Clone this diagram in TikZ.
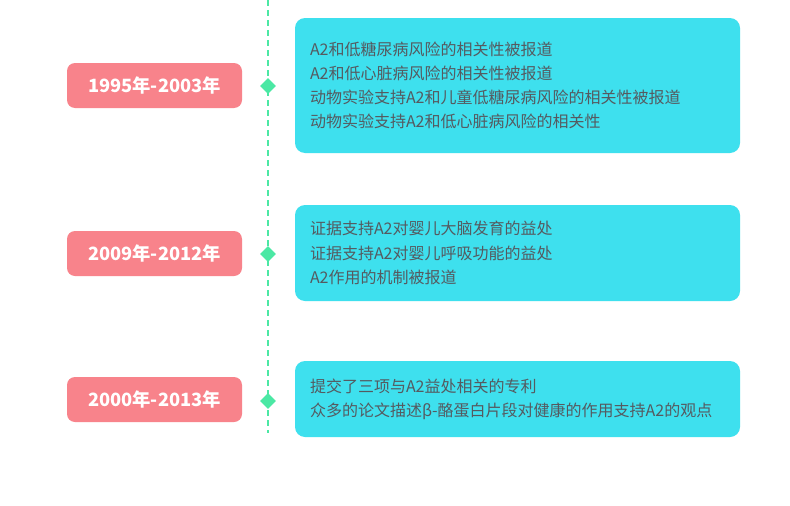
\documentclass[tikz,border=0pt]{standalone}
\usepackage{fontspec}
\newfontfamily\cjk{Noto Sans CJK SC}
\usetikzlibrary{shapes.geometric}
\definecolor{pinkbox}{HTML}{F8838B}
\definecolor{cyanbox}{HTML}{3EE0EE}
\definecolor{greenline}{HTML}{4BE8A4}
\definecolor{txtgray}{HTML}{555A60}
\tikzset{
  yearbox/.style={fill=pinkbox, rounded corners=8pt, minimum width=175pt, minimum height=45pt, inner sep=0pt, text=white, font=\cjk\bfseries\fontsize{18.3pt}{20pt}\selectfont},
  infobox/.style={fill=cyanbox, rounded corners=10pt, text width=415pt, inner xsep=15pt, inner ysep=0pt, align=left, text=txtgray, font=\cjk\fontsize{16pt}{24.2pt}\selectfont},
  mark diamond/.style={diamond, fill=greenline, minimum width=16pt, minimum height=16pt, inner sep=0pt},
  timeline/.style={draw=greenline, line width=1.6pt, dash pattern=on 6pt off 4pt}
}
\begin{document}
\begin{tikzpicture}[x=1pt,y=-1pt]
\fill[white] (0,0) rectangle (790,506);
\useasboundingbox (0,0) rectangle (790,506);
\coordinate (top) at (268,0);
\coordinate (bottom) at (268,433);
\draw[timeline] (top) -- (bottom);
\node[mark diamond] (d1) at (268,86) {};
\node[mark diamond] (d2) at (268,254) {};
\node[mark diamond] (d3) at (268,401) {};
\node[yearbox] (y1) at (154.5,85.5) {1995年-2003年};
\node[yearbox] (y2) at (154.5,253.5) {2009年-2012年};
\node[yearbox] (y3) at (154.5,399.5) {2000年-2013年};
\node[infobox, minimum height=135pt] (b1) at (517.5,85.5) {A2和低糖尿病风险的相关性被报道\\A2和低心脏病风险的相关性被报道\\动物实验支持A2和儿童低糖尿病风险的相关性被报道\\动物实验支持A2和低心脏病风险的相关性};
\node[infobox, minimum height=96pt] (b2) at (517.5,253) {证据支持A2对婴儿大脑发育的益处\\证据支持A2对婴儿呼吸功能的益处\\A2作用的机制被报道};
\node[infobox, minimum height=76pt] (b3) at (517.5,399) {提交了三项与A2益处相关的专利\\众多的论文描述β-酪蛋白片段对健康的作用支持A2的观点};
\end{tikzpicture}
\end{document}
